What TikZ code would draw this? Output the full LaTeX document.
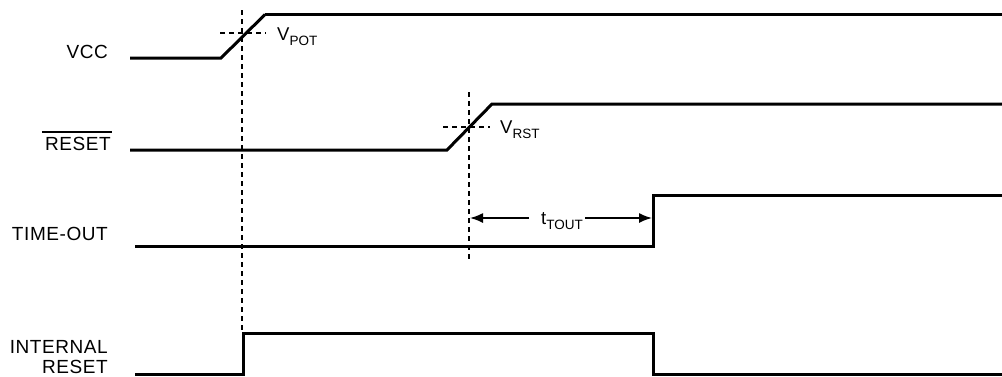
\documentclass[tikz,border=0pt]{standalone}
\usepackage{fontspec}
\setmainfont{Liberation Sans}
\usetikzlibrary{arrows.meta}
\tikzset{
  sig/.style={line width=3pt, line join=miter, line cap=butt},
  guide/.style={line width=1.5pt, dash pattern=on 5pt off 4pt},
  lbl/.style={inner sep=0pt, font=\fontsize{19}{21}\selectfont\addfontfeatures{LetterSpace=3}},
  vlbl/.style={inner sep=0pt, anchor=base west, font=\fontsize{18.5}{20}\selectfont},
  dimarr/.style={line width=1.6pt, -{Latex[length=13pt,width=10pt]}}
}
\newcommand{\subtxt}[1]{\raisebox{-5pt}{\fontsize{13.5}{14}\selectfont #1}}
\begin{document}
\begin{tikzpicture}[x=1pt,y=-1pt]
\useasboundingbox (0,0) rectangle (1002,376);
% labels
\node[lbl, anchor=east] (vcc) at (108,52) {VCC};
\node[lbl, anchor=east] (rst) at (111,144) {RESET};
\draw[line width=1.8pt] ([xshift=-3pt,yshift=5pt]rst.north west) -- ([xshift=1pt,yshift=5pt]rst.north east);
\node[lbl, anchor=east] (tout) at (108,234) {TIME-OUT};
\node[lbl, anchor=east] (ir1) at (108,347) {INTERNAL};
\node[lbl, anchor=east] (ir2) at (108,367) {RESET};
% guide lines
\coordinate (g1t) at (242,10);
\coordinate (g1b) at (242,332);
\coordinate (g2t) at (469,92);
\coordinate (g2b) at (469,262);
\draw[guide] (g1t) -- (g1b);
\draw[guide] (g2t) -- (g2b);
\draw[guide] (220,33) -- (266,33);
\draw[guide] (443,127) -- (490,127);
% VCC
\draw[sig] (130,58) -- (221,58) -- (265,14.5);
\draw[line width=2.3pt] (265,14.5) -- (1002,14.5);
\node[vlbl] (vpot) at (277,40) {V\subtxt{POT}};
% RESET
\draw[sig] (130,150) -- (447,150) -- (492,104) -- (1002,104);
\node[vlbl] (vrst) at (500,133) {V\subtxt{RST}};
% TIME-OUT
\draw[sig] (135,246) -- (653,246) -- (653,195) -- (1002,195);
\node[vlbl] (tt) at (541,224) {t\subtxt{TOUT}};
\coordinate (al) at (470,218);
\coordinate (ar) at (652,218);
\draw[dimarr] (tt.west |- al) ++(-12,0) -- (al);
\draw[dimarr] (tt.east |- ar) ++(2,0) -- (ar);
% INTERNAL RESET
\draw[sig] (135,374.5) -- (243,374.5) -- (243,333) -- (653,333) -- (653,374.5) -- (1002,374.5);
\end{tikzpicture}
\end{document}
